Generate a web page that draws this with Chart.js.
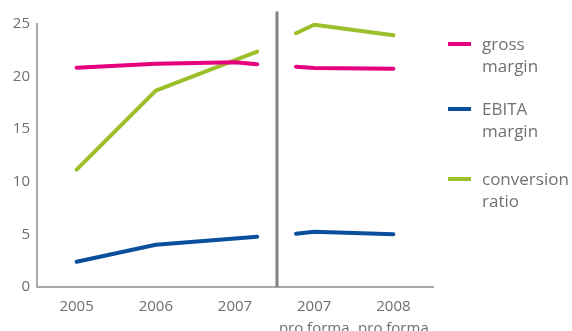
<!DOCTYPE html>
<html>
  <head>
    <meta charset="utf-8" />
    <title>margins</title>
    <script src="https://cdn.jsdelivr.net/npm/chart.js@4.4.1/dist/chart.umd.min.js"></script>
    <style>
      html, body { margin: 0; padding: 0; background: #fff; }
      .wrap { position: relative; width: 572px; height: 331px; }
      #legend { position: absolute; left: 448px; top: 0; font-family: "Open Sans", sans-serif; font-size: 17px; color: #707173; }
      .item { position: absolute; left: 0; width: 124px; }
      .swatch { position: absolute; left: 0; top: 0; width: 23px; height: 4px; }
      .label { position: absolute; left: 34px; top: -9px; line-height: 22px; white-space: nowrap; }
    </style>
  </head>
  <body>
    <div class="wrap">
      <canvas id="chart" width="572" height="331"></canvas>
      <div id="legend"></div>
    </div>

    <script>
      // categories (multi-line tick labels)
      var xLabels = [["2005"], ["2006"], ["2007"], ["2007", "pro forma"], ["2008", "pro forma"]];
      // x positions on the category scale; lines stop short of the period divider
      var xPos = [0, 1, 2, 2.28, 2.53, 2.77, 3, 4];
      var grossMargin = [20.85, 21.23, 21.36, 21.17, null, 20.94, 20.82, 20.75];
      var ebitaMargin = [2.4, 4.02, 4.6, 4.78, null, 5.07, 5.26, 5.01];
      var conversionRatio = [11.15, 18.66, 21.56, 22.37, null, 24.12, 24.93, 23.93];
      var dividerX = 2.53;
      var dividerTop = 26.2;
      var yTicks = [0, 5, 10, 15, 20, 25];
      var seriesNames = [["gross", "margin"], ["EBITA", "margin"], ["conversion", "ratio"]];

      var colors = ["#E5007D", "#0A4F9C", "#9CC02C"];
      var series = [grossMargin, ebitaMargin, conversionRatio];

      function toPoints(values) {
        return values.map(function (v, i) {
          return { x: xPos[i], y: v };
        });
      }

      var datasets = series.map(function (s, i) {
        return {
          label: seriesNames[i].join(" "),
          data: toPoints(s),
          borderColor: colors[i],
          borderWidth: 4,
          pointRadius: 0,
          tension: 0,
          spanGaps: false,
          borderCapStyle: "round",
          borderJoinStyle: "round",
          clip: false,
        };
      });

      // vertical divider between reported and pro forma years
      datasets.push({
        label: "divider",
        data: [{ x: dividerX, y: 0 }, { x: dividerX, y: dividerTop }],
        borderColor: "#808184",
        borderWidth: 3,
        pointRadius: 0,
        clip: false,
      });

      Chart.defaults.font.family = "'Open Sans', sans-serif";
      Chart.defaults.color = "#6d6e71";

      var ctx = document.getElementById("chart");
      var chart = new Chart(ctx, {
        type: "line",
        data: { datasets: datasets },
        options: {
          responsive: false,
          animation: false,
          layout: { padding: { top: 24, right: 139, left: 0, bottom: 0 } },
          plugins: { legend: { display: false }, tooltip: { enabled: false } },
          scales: {
            x: {
              type: "linear",
              min: -0.5,
              max: 4.5,
              grid: { display: false, drawTicks: false },
              border: { color: "#a7a9ac", width: 2 },
              afterBuildTicks: function (scale) {
                scale.ticks = xLabels.map(function (_, i) {
                  return { value: i };
                });
              },
              afterFit: function (scale) {
                scale.height = 44;
              },
              ticks: {
                padding: 8,
                autoSkip: false,
                maxRotation: 0,
                font: { size: 15, lineHeight: 1.5 },
                callback: function (value) {
                  return xLabels[value];
                },
              },
            },
            y: {
              min: 0,
              max: 25,
              grid: { display: false, drawTicks: false },
              border: { color: "#a7a9ac", width: 2 },
              afterBuildTicks: function (scale) {
                scale.ticks = yTicks.map(function (v) {
                  return { value: v };
                });
              },
              afterFit: function (scale) {
                scale.width = 37;
              },
              ticks: { padding: 7, font: { size: 15 } },
            },
          },
        },
      });

      // legend on the right
      var legendTops = [44, 109, 179];
      var legend = document.getElementById("legend");
      seriesNames.forEach(function (name, i) {
        var item = document.createElement("div");
        item.className = "item";
        item.style.top = legendTops[i] - 2 + "px";
        item.innerHTML =
          '<div class="swatch" style="background:' + colors[i] + '"></div>' +
          '<div class="label">' + name.join("<br>") + "</div>";
        legend.appendChild(item);
      });
    </script>
  </body>
</html>
